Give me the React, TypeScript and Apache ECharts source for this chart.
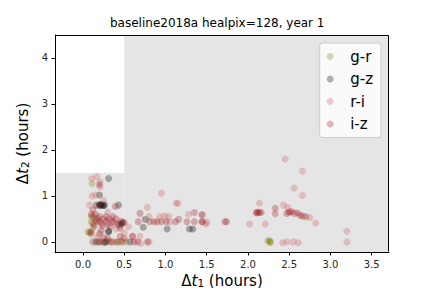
import React, { useEffect, useRef } from "react";
import * as echarts from "echarts";

const titleText = "baseline2018a healpix=128, year 1";
const seriesNames = ["g-r", "g-z", "r-i", "i-z"];
const seriesColors = ["#808000", "#000000", "#cd5c5c", "#a0181e"];
const xTicks = [0, 0.5, 1, 1.5, 2, 2.5, 3, 3.5];
const yTicks = [0, 1, 2, 3, 4];
const xRange = [-0.34, 3.71];
const yRange = [-0.22, 4.5];
const clearCorner = [0.5, 1.5];

const grPoints = [
  [0.1, 0.54], [0.1, 0.43], [0.1, 0.17], [0.11, 1.27], [0.06, 0.22], [0.15, 0.5],
  [0.19, 0.0], [0.3, 0.02], [0.4, 0.0], [0.45, 0.0], [0.52, 0.0], [0.12, 0.3],
  [2.24, 0.02], [2.27, 0.0], [2.26, 0.03], [2.27, -0.01],
];
const gzPoints = [
  [0.2, 0.8], [0.22, 0.8], [0.24, 0.8], [0.26, 0.8], [0.21, 0.81], [0.25, 0.79],
  [0.16, 0.8], [0.43, 0.8], [0.31, 1.38], [0.2, 1.02], [0.31, 0.22], [0.31, 0.23],
  [0.755, 0.49], [0.73, 0.32], [1.02, 0.28], [1.29, 0.28], [1.33, 0.28],
  [0.47, 0.4], [0.45, 0.37], [0.48, 0.42], [0.16, 0.0], [0.28, 0.0], [0.57, 0.0], [0.26, -0.01],
];
const riPoints = [
  [0.105, 1.38], [0.166, 1.42], [0.206, 1.31], [0.206, 1.2], [0.154, 1.02], [0.11, 1.0],
  [0.95, 1.06], [0.78, 0.75], [1.13, 0.84], [1.15, 0.84], [0.08, 0.8], [0.25, 0.9],
  [2.45, 1.8], [2.66, 1.54], [2.56, 1.17], [2.66, 1.01], [2.14, 0.84], [2.43, 0.8],
  [2.48, 0.75], [2.82, 0.41], [2.02, 0.39], [2.21, 0.39], [3.2, 0.23], [3.2, 0.0],
  [2.42, -0.02], [2.47, 0.0], [2.55, 0.0], [2.61, -0.02], [0.69, 0.12], [0.7, -0.03],
  [0.8, 0.0], [1.49, 0.39], [1.05, 0.43], [1.5, 0.43], [0.93, 0.55], [0.99, 0.56],
  [1.04, 0.55], [0.8, 0.55], [1.28, 0.6], [1.45, 0.59], [0.3, 0.65], [0.4, 0.28],
  [0.55, 0.33], [0.6, 0.12], [0.17, 0.1], [0.5, 0.2], [2.5, 0.66], [2.75, 0.53],
];
const izPoints = [
  [0.69, 0.62], [1.16, 0.49], [1.35, 0.64], [0.67, 0.44], [0.81, 0.44], [0.86, 0.44],
  [0.9, 0.44], [0.95, 0.44], [1.01, 0.44], [1.12, 0.44], [1.26, 0.44], [1.35, 0.44],
  [1.45, 0.44], [1.72, 0.44], [1.74, 0.44], [2.1, 0.64], [2.12, 0.65], [2.14, 0.64],
  [2.16, 0.64], [2.11, 0.63], [2.33, 0.73], [2.33, 0.61], [2.47, 0.62], [2.5, 0.64],
  [2.53, 0.66], [2.56, 0.62], [2.6, 0.63], [2.63, 0.58], [2.66, 0.56], [2.7, 0.55],
  [1.44, 0.59], [1.44, 0.44],
  [0.12, 0.55], [0.15, 0.6], [0.18, 0.5], [0.2, 0.45], [0.22, 0.4], [0.25, 0.5],
  [0.28, 0.45], [0.3, 0.38], [0.32, 0.5], [0.35, 0.45], [0.38, 0.42], [0.4, 0.5],
  [0.12, 0.4], [0.14, 0.35], [0.16, 0.45], [0.2, 0.55], [0.24, 0.35], [0.28, 0.55],
  [0.33, 0.33], [0.36, 0.55], [0.42, 0.38], [0.46, 0.45], [0.5, 0.42], [0.45, 0.3],
  [0.1, 0.22], [0.08, 0.2], [0.2, 0.18], [0.22, 0.25], [0.39, 0.77], [0.2, 0.8],
  [0.12, 0.7], [0.1, 0.6], [0.2, 1.25],
  [0.12, 0.0], [0.2, 0.0], [0.23, 0.0], [0.33, 0.0], [0.36, 0.0], [0.42, 0.0],
  [0.48, 0.0], [0.62, 0.0], [0.66, 0.0], [0.78, 0.0], [0.3, 0.08], [0.45, 0.12],
  [0.5, 0.08], [0.25, 0.1], [0.6, 0.12],
];
const seriesData = [grPoints, gzPoints, riPoints, izPoints];

const FONT = "DejaVu Sans";
const GRID = { left: 55, right: 43, top: 35, bottom: 36 };

export default function App() {
  const ref = useRef<HTMLDivElement>(null);
  useEffect(() => {
    if (!ref.current) return;
    const chart = echarts.init(ref.current, null, { renderer: "svg" });
    const series: any[] = seriesNames.map((name, i) => ({
      type: "scatter",
      name,
      data: seriesData[i],
      symbol: "circle",
      symbolSize: 7,
      itemStyle: { color: seriesColors[i], opacity: 0.3 },
      emphasis: { disabled: true },
      z: 3,
    }));
    series[0].markArea = {
      silent: true,
      itemStyle: { color: "#e5e5e5", opacity: 1 },
      label: { show: false },
      data: [
        [{ coord: [xRange[0], yRange[0]] }, { coord: [clearCorner[0], clearCorner[1]] }],
        [{ coord: [clearCorner[0], yRange[0]] }, { coord: [xRange[1], yRange[1]] }],
      ],
    };
    const nameRich = {
      a: { fontFamily: FONT, fontSize: 15, color: "#000" },
      i: { fontFamily: FONT, fontSize: 15, fontStyle: "italic", color: "#000" },
      s: { fontFamily: FONT, fontSize: 10.5, color: "#000", padding: [3, 0, 0, 0] },
    };
    const W = 432;
    const H = 288;
    const x0 = GRID.left + 0.5;
    const x1 = W - GRID.right - 0.5;
    const y0 = GRID.top + 0.5;
    const y1 = H - GRID.bottom - 0.5;
    const frameStyle = { stroke: "#000000", lineWidth: 1 };
    chart.setOption({
      animation: false,
      textStyle: { fontFamily: FONT },
      title: {
        text: titleText,
        left: 110,
        top: 17,
        padding: 0,
        textStyle: { fontFamily: FONT, fontSize: 12, fontWeight: "normal", color: "#000" },
      },
      grid: { ...GRID, outerBoundsMode: "none", containLabel: false },
      graphic: {
        elements: [
          { type: "line", z: 100, silent: true, shape: { x1: x0, y1: y0, x2: x1, y2: y0 }, style: frameStyle },
          { type: "line", z: 100, silent: true, shape: { x1: x1, y1: y0, x2: x1, y2: y1 }, style: frameStyle },
        ],
      },
      legend: {
        orient: "vertical",
        right: 51,
        top: 43,
        data: seriesNames,
        itemWidth: 30,
        itemHeight: 7,
        itemGap: 5.5,
        padding: [5, 8, 5, 7],
        backgroundColor: "rgba(255,255,255,0.8)",
        borderColor: "#cccccc",
        borderWidth: 1,
        borderRadius: 3,
        textStyle: { fontFamily: FONT, fontSize: 15, color: "#000", lineHeight: 17 },
      },
      xAxis: {
        type: "value",
        min: xRange[0],
        max: xRange[1],
        position: "bottom",
        name: "{a|Δ}{i|t}{s|1}{a| (hours)}",
        nameLocation: "middle",
        nameGap: 17,
        nameTextStyle: { rich: nameRich },
        axisLine: { show: true, onZero: false, lineStyle: { color: "#000", width: 1 } },
        axisTick: { show: true, length: 3.5, inside: false, customValues: xTicks, lineStyle: { color: "#000" } },
        axisLabel: {
          show: true,
          customValues: xTicks,
          margin: 7,
          fontSize: 10,
          fontFamily: FONT,
          color: "#262626",
          formatter: (v: number) => v.toFixed(1),
        },
        splitLine: { show: false },
        z: 10,
      },
      yAxis: {
        type: "value",
        min: yRange[0],
        max: yRange[1],
        position: "left",
        name: "{a|Δ}{i|t}{s|2}{a| (hours)}",
        nameLocation: "middle",
        nameGap: 15,
        nameRotate: 90,
        nameTextStyle: { rich: nameRich },
        axisLine: { show: true, onZero: false, lineStyle: { color: "#000", width: 1 } },
        axisTick: { show: true, length: 3.5, inside: false, customValues: yTicks, lineStyle: { color: "#000" } },
        axisLabel: {
          show: true,
          customValues: yTicks,
          margin: 7,
          fontSize: 10,
          fontFamily: FONT,
          color: "#262626",
        },
        splitLine: { show: false },
        z: 10,
      },
      series,
    });
    return () => chart.dispose();
  }, []);
  return <div ref={ref} style={{ width: 432, height: 288, position: "fixed", left: 0, top: 0, background: "#fff" }} />;
}
